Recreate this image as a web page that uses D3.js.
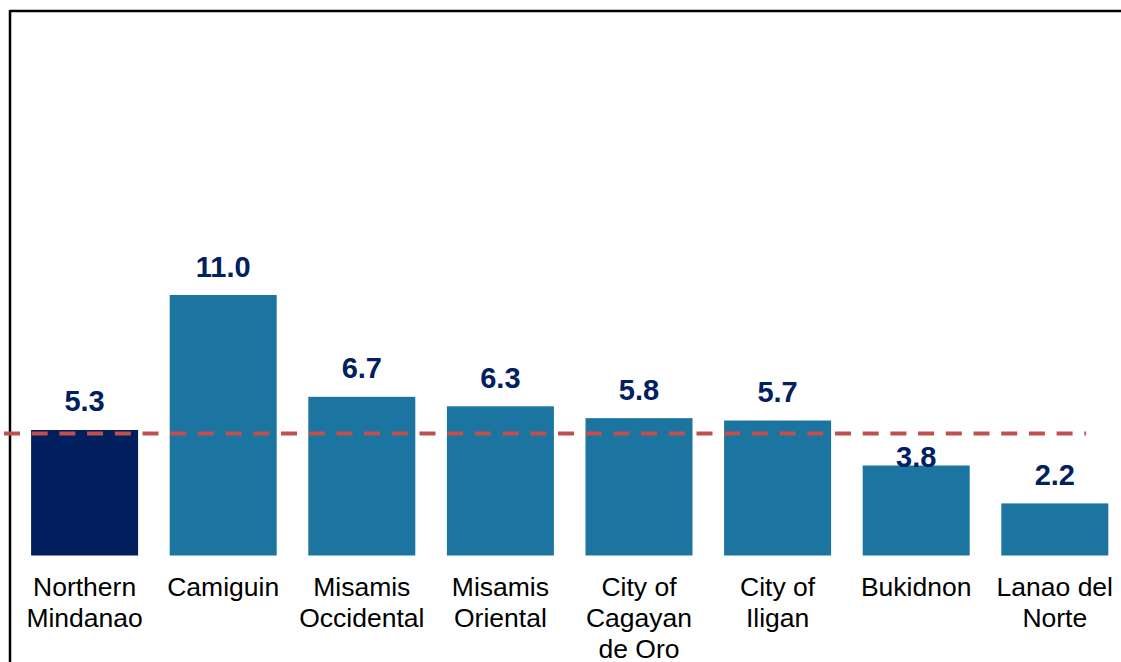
<!DOCTYPE html>
<html lang="en">
<head>
    <meta charset="UTF-8">
    <title>Northern Mindanao bar chart</title>
    <script src="https://d3js.org/d3.v7.min.js"></script>
    <style>
        body { margin: 0; background: #fff; }
        svg { display: block; }
    </style>
</head>
<body>
    <svg id="chart"></svg>

    <script>
        // Chart data
        const categories = [
            ["Northern", "Mindanao"],
            ["Camiguin"],
            ["Misamis", "Occidental"],
            ["Misamis", "Oriental"],
            ["City of", "Cagayan", "de Oro"],
            ["City of", "Iligan"],
            ["Bukidnon"],
            ["Lanao del", "Norte"]
        ];
        const values = [5.3, 11.0, 6.7, 6.3, 5.8, 5.7, 3.8, 2.2];
        const referenceValue = 5.15;

        const width = 1121;
        const height = 662;

        const svg = d3.select("#chart")
            .attr("width", width)
            .attr("height", height);

        // Frame (only top and left edges are visible)
        svg.append("line")
            .attr("x1", 10).attr("x2", width)
            .attr("y1", 11).attr("y2", 11)
            .attr("stroke", "#000").attr("stroke-width", 2.5);
        svg.append("line")
            .attr("x1", 10).attr("x2", 10)
            .attr("y1", 10).attr("y2", height)
            .attr("stroke", "#000").attr("stroke-width", 2.5);

        const keys = categories.map(d => d.join(" "));

        const x = d3.scaleBand()
            .domain(keys)
            .range([15.3, 1124.1])
            .paddingInner(0.228)
            .paddingOuter(0.114);

        const y = d3.scaleLinear()
            .domain([0, 11])
            .range([555.5, 295]);

        // Bars
        svg.selectAll("rect.bar")
            .data(values)
            .join("rect")
            .attr("class", "bar")
            .attr("x", (d, i) => x(keys[i]))
            .attr("y", d => y(d))
            .attr("width", x.bandwidth())
            .attr("height", d => y(0) - y(d))
            .attr("fill", (d, i) => i === 0 ? "#001F5C" : "#1B75A0");

        // Reference line
        svg.append("line")
            .attr("x1", 4).attr("x2", 1086)
            .attr("y1", y(referenceValue)).attr("y2", y(referenceValue))
            .attr("stroke", "#C0504D")
            .attr("stroke-width", 4)
            .attr("stroke-dasharray", "16 11.7");

        // Value labels (Bukidnon label sits lower in the original)
        const labelNudge = { "Bukidnon": 20 };
        svg.selectAll("text.value")
            .data(values)
            .join("text")
            .attr("class", "value")
            .attr("x", (d, i) => x(keys[i]) + x.bandwidth() / 2)
            .attr("y", (d, i) => y(d) - 18.5 + (labelNudge[keys[i]] || 0))
            .attr("text-anchor", "middle")
            .attr("font-family", "Liberation Sans, Arial, sans-serif")
            .attr("font-weight", "bold")
            .attr("font-size", 29)
            .attr("fill", "#002060")
            .text(d => d.toFixed(1));

        // Category labels
        const catLabels = svg.selectAll("text.cat")
            .data(categories)
            .join("text")
            .attr("class", "cat")
            .attr("x", (d, i) => x(keys[i]) + x.bandwidth() / 2)
            .attr("y", 595.5)
            .attr("text-anchor", "middle")
            .attr("font-family", "Liberation Sans, Arial, sans-serif")
            .attr("font-size", 26.5)
            .attr("fill", "#000");

        catLabels.selectAll("tspan")
            .data(d => d)
            .join("tspan")
            .attr("x", function () { return d3.select(this.parentNode).attr("x"); })
            .attr("dy", (d, i) => i === 0 ? 0 : 31.2)
            .text(d => d);
    </script>
</body>
</html>
